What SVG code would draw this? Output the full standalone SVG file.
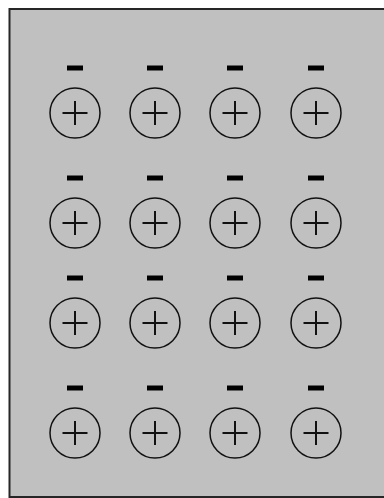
<svg xmlns="http://www.w3.org/2000/svg" width="384" height="498" viewBox="0 0 384 498">
<defs>
<style>
.bg{fill:#c0c0c0;stroke:#262626;stroke-width:2}
.ring{fill:none;stroke:#111;stroke-width:1.5}
.plus{stroke:#111;stroke-width:2;fill:none}
.minus{fill:#000}
</style>
<g id="charge">
<circle class="ring" cx="0" cy="0" r="25"/>
<path class="plus" d="M-12.5 0H12.5M0-12V12"/>
<rect class="minus" x="-8" y="-47.5" width="16" height="5"/>
</g>
</defs>
<rect class="bg" x="9.5" y="9" width="390" height="488"/>
<g id="row1">
<use href="#charge" x="75" y="113"/>
<use href="#charge" x="155" y="113"/>
<use href="#charge" x="235" y="113"/>
<use href="#charge" x="316" y="113"/>
</g>
<g id="row2">
<use href="#charge" x="75" y="223"/>
<use href="#charge" x="155" y="223"/>
<use href="#charge" x="235" y="223"/>
<use href="#charge" x="316" y="223"/>
</g>
<g id="row3">
<use href="#charge" x="75" y="323"/>
<use href="#charge" x="155" y="323"/>
<use href="#charge" x="235" y="323"/>
<use href="#charge" x="316" y="323"/>
</g>
<g id="row4">
<use href="#charge" x="75" y="433"/>
<use href="#charge" x="155" y="433"/>
<use href="#charge" x="235" y="433"/>
<use href="#charge" x="316" y="433"/>
</g>
</svg>
